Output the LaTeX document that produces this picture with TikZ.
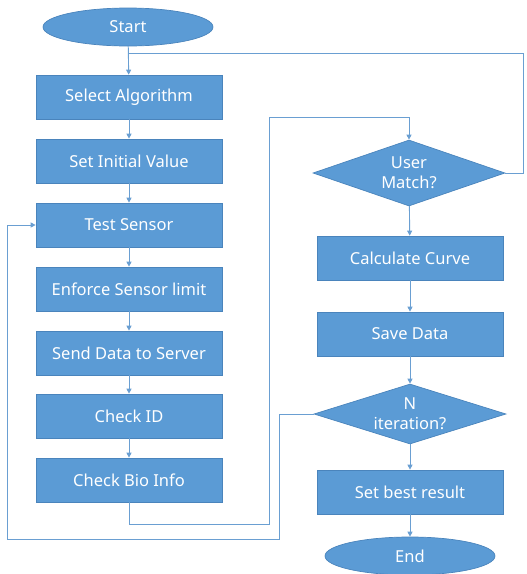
\documentclass[tikz,border=0pt]{standalone}
\usepackage{fontspec}
\setmainfont{Noto Sans}
\usetikzlibrary{shapes.geometric,arrows.meta}
\definecolor{boxblue}{HTML}{5B9BD5}
\definecolor{boxedge}{HTML}{4A84BC}
\definecolor{linkblue}{HTML}{6A9FD2}
\begin{document}
\begin{tikzpicture}[x=1pt,y=-1pt,
  txt/.style={text=white,font=\fontsize{16.5}{20}\selectfont},
  proc/.style={txt,rectangle,fill=boxblue,draw=boxedge,line width=0.7pt,
    minimum width=186pt,minimum height=44pt,inner sep=0pt},
  term/.style={txt,ellipse,fill=boxblue,draw=boxedge,line width=0.7pt,
    minimum width=170pt,minimum height=38pt,inner sep=0pt},
  decide/.style={diamond,fill=boxblue,draw=boxedge,line width=0.7pt,
    minimum width=192pt,minimum height=66pt,inner sep=0pt},
  dlabel/.style={txt,align=center},
  link/.style={draw=linkblue,line width=0.9pt},
  arr/.style={link,-{Triangle[length=5pt,width=5pt]}}
]
\useasboundingbox (0,0) rectangle (527,574);

% left column
\node[term] (start) at (128,27) {Start};
\node[proc] (sel)   at (129,97)  {Select Algorithm};
\node[proc] (init)  at (129,161) {Set Initial Value};
\node[proc] (test)  at (129,225) {Test Sensor};
\node[proc] (lim)   at (129,289) {Enforce Sensor limit};
\node[proc] (send)  at (129,353) {Send Data to Server};
\node[proc] (cid)   at (129,416) {Check ID};
\node[proc] (bio)   at (129,480) {Check Bio Info};

% right column
\node[decide,label={[dlabel]center:User\\Match?}] (um) at (409,173) {};
\node[proc] (calc)  at (410,258) {Calculate Curve};
\node[proc] (save)  at (410,334) {Save Data};
\node[decide,minimum height=60pt,label={[dlabel]center:N\\iteration?}] (ni) at (410,414) {};
\node[proc] (best)  at (410,492) {Set best result};
\node[term] (end)   at (410,556) {End};

% bend points of the loops
\coordinate (top)  at (128,53);
\coordinate (rtop) at (523,53);
\coordinate (c1)   at (269,524);
\coordinate (c2)   at (409,117);
\coordinate (c3)   at (279,539);
\coordinate (c4)   at (7,539);

% straight flow
\draw[arr] (start) -- (sel);
\draw[arr] (sel) -- (init);
\draw[arr] (init) -- (test);
\draw[arr] (test) -- (lim);
\draw[arr] (lim) -- (send);
\draw[arr] (send) -- (cid);
\draw[arr] (cid) -- (bio);
\draw[arr] (um) -- (calc);
\draw[arr] (calc) -- (save);
\draw[arr] (save) -- (ni);
\draw[arr] (ni) -- (best);
\draw[arr] (best) -- (end);

% loops
\draw[link] (um.east) -| (rtop) -- (top);
\draw[arr] (bio.south) |- (c1) |- (c2) -- (um.north);
\draw[arr] (ni.west) -| (c3) -- (c4) |- (test.west);
\end{tikzpicture}
\end{document}
